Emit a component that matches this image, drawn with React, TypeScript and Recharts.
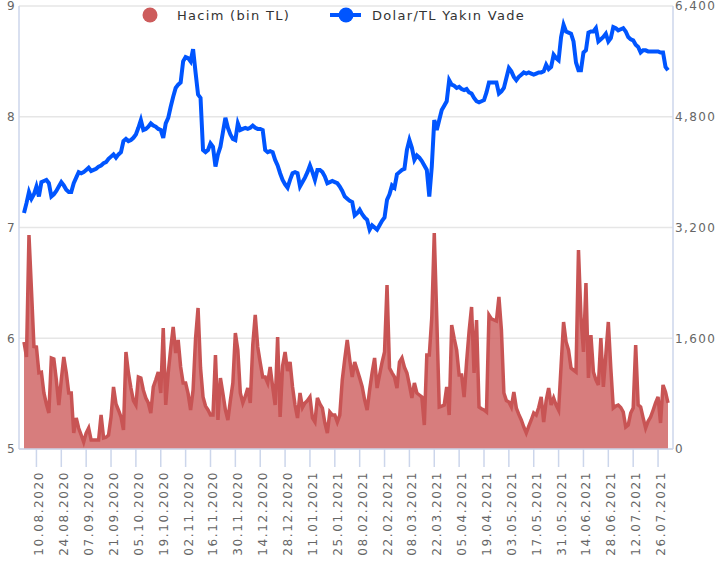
import React from "react";
import { ComposedChart, Area, Line, XAxis, YAxis, CartesianGrid } from "recharts";

// business days from 03.08.2020, 260 of them (one year of Mon-Fri)
const START_DATE = "2020-08-03";
const DAY_COUNT = 260;

const TICK_LABELS = [
  "10.08.2020", "24.08.2020", "07.09.2020", "21.09.2020", "05.10.2020", "19.10.2020",
  "02.11.2020", "16.11.2020", "30.11.2020", "14.12.2020", "28.12.2020", "11.01.2021",
  "25.01.2021", "08.02.2021", "22.02.2021", "08.03.2021", "22.03.2021", "05.04.2021",
  "19.04.2021", "03.05.2021", "17.05.2021", "31.05.2021", "14.06.2021", "28.06.2021",
  "12.07.2021", "26.07.2021",
];

// Dolar/TL Yakın Vade (left axis)
const KUR = [
  7.13, 7.22, 7.32, 7.26, 7.30, 7.37, 7.28, 7.41, 7.42, 7.43,
  7.40, 7.28, 7.30, 7.33, 7.37, 7.41, 7.38, 7.34, 7.32, 7.32,
  7.40, 7.45, 7.50, 7.49, 7.50, 7.52, 7.54, 7.51, 7.52, 7.53,
  7.55, 7.56, 7.58, 7.59, 7.62, 7.64, 7.66, 7.63, 7.66, 7.68,
  7.78, 7.80, 7.78, 7.79, 7.81, 7.84, 7.90, 7.97, 7.88, 7.89,
  7.91, 7.94, 7.92, 7.91, 7.89, 7.88, 7.81, 7.94, 7.99, 8.09,
  8.18, 8.26, 8.29, 8.31, 8.50, 8.54, 8.53, 8.50, 8.61, 8.40,
  8.20, 8.17, 7.70, 7.68, 7.70, 7.76, 7.73, 7.55, 7.66, 7.73,
  7.86, 7.99, 7.90, 7.84, 7.80, 7.79, 7.94, 7.88, 7.89, 7.90,
  7.89, 7.90, 7.92, 7.90, 7.89, 7.89, 7.88, 7.70, 7.68, 7.69,
  7.68, 7.61, 7.56, 7.49, 7.43, 7.39, 7.36, 7.43, 7.49, 7.50,
  7.49, 7.37, 7.41, 7.45, 7.50, 7.56, 7.50, 7.43, 7.52, 7.52,
  7.50, 7.46, 7.40, 7.41, 7.42, 7.41, 7.40, 7.37, 7.33, 7.28,
  7.26, 7.24, 7.23, 7.11, 7.13, 7.16, 7.12, 7.09, 7.07, 6.98,
  7.02, 7.00, 6.98, 7.02, 7.06, 7.09, 7.25, 7.30, 7.38, 7.36,
  7.48, 7.50, 7.52, 7.53, 7.70, 7.79, 7.72, 7.61, 7.65, 7.63,
  7.60, 7.56, 7.52, 7.28, 7.55, 7.97, 7.88, 7.97, 8.06, 8.10,
  8.14, 8.33, 8.29, 8.28, 8.26, 8.27, 8.25, 8.24, 8.25, 8.22,
  8.21, 8.17, 8.14, 8.13, 8.14, 8.15, 8.22, 8.31, 8.31, 8.31,
  8.31, 8.21, 8.23, 8.26, 8.35, 8.44, 8.41, 8.36, 8.33, 8.36,
  8.38, 8.40, 8.39, 8.40, 8.39, 8.38, 8.39, 8.40, 8.40, 8.41,
  8.47, 8.43, 8.45, 8.56, 8.53, 8.51, 8.72, 8.83, 8.77, 8.76,
  8.75, 8.68, 8.49, 8.42, 8.42, 8.58, 8.60, 8.76, 8.77, 8.77,
  8.80, 8.68, 8.70, 8.72, 8.75, 8.68, 8.71, 8.81, 8.80, 8.78,
  8.79, 8.80, 8.77, 8.72, 8.70, 8.69, 8.65, 8.63, 8.58, 8.60,
  8.60, 8.59, 8.59, 8.59, 8.59, 8.59, 8.58, 8.58, 8.45, 8.42,
];

// Hacim (bin TL) (right axis)
const HACIM = [
  1546, 1330, 3092, 2300, 1480, 1474, 1100, 1110, 809, 650,
  520, 1315, 1300, 1000, 636, 1000, 1330, 1100, 809, 809,
  231, 448, 300, 202, 101, 231, 303, 130, 130, 130,
  130, 491, 160, 170, 200, 462, 896, 650, 560, 462,
  275, 1402, 1100, 881, 700, 636, 1040, 1026, 850, 737,
  665, 520, 896, 1000, 1113, 809, 1748, 636, 1098, 1450,
  1763, 1387, 1575, 1185, 954, 954, 800, 564, 852, 1600,
  2037, 1170, 751, 620, 564, 491, 491, 1358, 419, 1026,
  800, 564, 419, 700, 954, 1676, 1430, 809, 665, 760,
  881, 665, 1500, 1936, 1474, 1250, 1040, 1040, 954, 1185,
  900, 636, 1618, 462, 1200, 1402, 1127, 1257, 896, 636,
  448, 809, 600, 665, 700, 751, 448, 390, 737, 650,
  592, 376, 231, 535, 491, 491, 390, 491, 997, 1300,
  1575, 1286, 1040, 1257, 1142, 1026, 900, 708, 564, 852,
  1100, 1315, 881, 1069, 1250, 1402, 2370, 1170, 1100, 1040,
  881, 1257, 1315, 1180, 1098, 925, 737, 954, 809, 780,
  751, 347, 1358, 1358, 1900, 3121, 1900, 607, 620, 636,
  896, 491, 1792, 1600, 1430, 1069, 1069, 751, 1257, 1700,
  2052, 1100, 1864, 607, 580, 564, 535, 1936, 1880, 1864,
  1850, 2196, 1720, 809, 700, 679, 607, 824, 592, 500,
  419, 318, 231, 330, 419, 520, 491, 600, 751, 390,
  700, 881, 636, 737, 636, 564, 1200, 1835, 1550, 1430,
  1170, 1140, 1113, 2875, 1907, 1402, 2399, 1026, 1647, 1113,
  1000, 925, 1604, 896, 1358, 1835, 1170, 592, 620, 636,
  600, 535, 318, 347, 520, 592, 1503, 636, 607, 450,
  303, 400, 462, 560, 665, 751, 376, 925, 824, 665,
];

const KUR_TICKS = [5, 6, 7, 8, 9];
const HACIM_TICKS = [0, 1600, 3200, 4800, 6400];

const FONT = "'DejaVu Sans', sans-serif";
const AXIS_COLOR = "#ccd6eb";
const LABEL_COLOR = "#666666";
const RED = "#cd5c5c";
const BLUE = "#0055ff";

function buildDates(start: string, count: number) {
  const out: string[] = [];
  const d = new Date(start + "T00:00:00Z");
  while (out.length < count) {
    const wd = d.getUTCDay();
    if (wd !== 0 && wd !== 6) {
      const dd = String(d.getUTCDate()).padStart(2, "0");
      const mm = String(d.getUTCMonth() + 1).padStart(2, "0");
      out.push(`${dd}.${mm}.${d.getUTCFullYear()}`);
    }
    d.setUTCDate(d.getUTCDate() + 1);
  }
  return out;
}

const DATES = buildDates(START_DATE, DAY_COUNT);
const data = DATES.map((date, i) => ({ date, kur: KUR[i], hacim: HACIM[i] }));

function DateTick(props: any) {
  const { x, y, payload } = props;
  return (
    <text
      transform={`translate(${x + 7},${y + 2}) rotate(-90)`}
      textAnchor="end"
      fill={LABEL_COLOR}
      fontSize={12}
      letterSpacing={1.6}
      fontFamily={FONT}
    >
      {payload.value}
    </text>
  );
}

function Legend() {
  const text = { fontSize: 13, letterSpacing: 1.3, fill: "#333333", fontFamily: FONT };
  return (
    <svg width={717} height={30} style={{ position: "absolute", left: 0, top: 0 }}>
      <circle cx={150} cy={15} r={7.5} fill={RED} />
      <text x={177} y={20} {...text}>Hacim (bin TL)</text>
      <line x1={330} y1={15} x2={361} y2={15} stroke={BLUE} strokeWidth={4} />
      <circle cx={346} cy={15} r={7.5} fill={BLUE} />
      <text x={372} y={20} {...text}>Dolar/TL Yakın Vade</text>
    </svg>
  );
}

export default function App() {
  const tickStyle = { fill: LABEL_COLOR, fontSize: 12, letterSpacing: 1.4, fontFamily: FONT };
  return (
    <div style={{ position: "absolute", left: 0, top: 0, width: 717, height: 574, background: "#fff", fontFamily: FONT }}>
      <ComposedChart width={717} height={574} data={data} margin={{ top: 6, right: 0, left: 0, bottom: 0 }}>
        <CartesianGrid yAxisId="left" vertical={false} stroke="#e6e6e6" strokeWidth={1.5} />
        <XAxis
          dataKey="date"
          ticks={TICK_LABELS}
          interval={0}
          height={125}
          padding={{ left: 5, right: 5 }}
          tickSize={18}
          tickLine={{ stroke: AXIS_COLOR, strokeWidth: 1.5 }}
          axisLine={{ stroke: AXIS_COLOR, strokeWidth: 1.5 }}
          tick={<DateTick />}
        />
        <YAxis
          yAxisId="left"
          width={19}
          domain={[5, 9]}
          ticks={KUR_TICKS}
          interval={0}
          tickLine={false}
          tickSize={2}
          tickMargin={1}
          axisLine={{ stroke: AXIS_COLOR, strokeWidth: 1.5 }}
          tick={tickStyle}
        />
        <YAxis
          yAxisId="right"
          orientation="right"
          width={44}
          domain={[0, 6400]}
          ticks={HACIM_TICKS}
          interval={0}
          tickLine={false}
          tickSize={0}
          tickMargin={2}
          axisLine={{ stroke: AXIS_COLOR, strokeWidth: 1.5 }}
          tick={tickStyle}
          tickFormatter={(v: number) => v.toLocaleString("en-US")}
        />
        <Area
          yAxisId="right"
          type="linear"
          dataKey="hacim"
          stroke="#c85454"
          strokeWidth={3.5}
          fill={RED}
          fillOpacity={0.8}
          dot={false}
          activeDot={false}
          isAnimationActive={false}
        />
        <Line
          yAxisId="left"
          type="linear"
          dataKey="kur"
          stroke={BLUE}
          strokeWidth={4}
          dot={false}
          activeDot={false}
          isAnimationActive={false}
        />
      </ComposedChart>
      <Legend />
    </div>
  );
}
